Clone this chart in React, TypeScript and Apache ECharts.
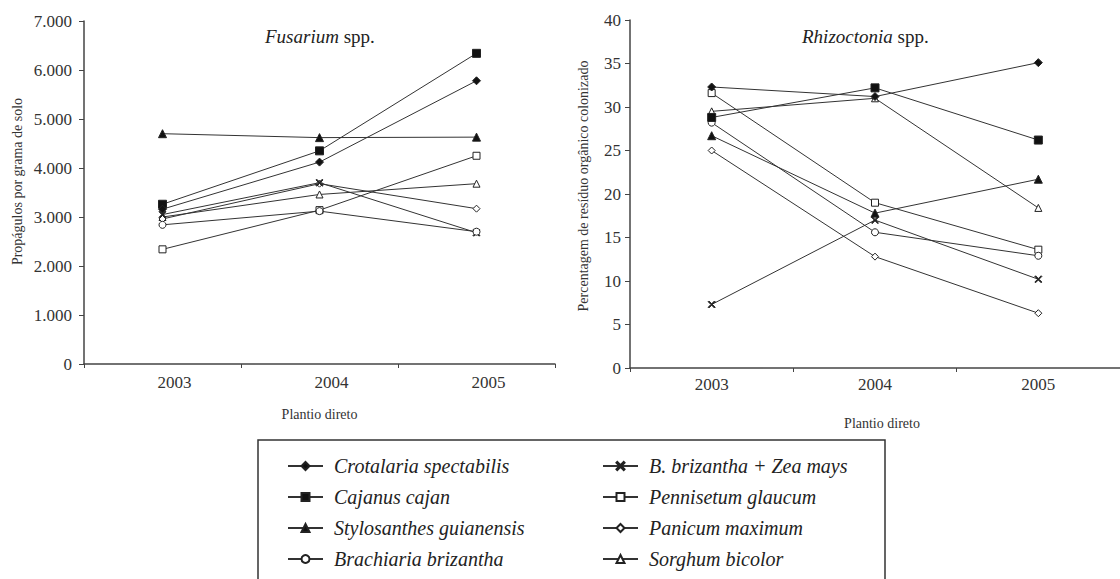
import React, { useEffect, useRef } from "react";
import * as echarts from "echarts";

const years = ["2003", "2004", "2005"];
const seriesNames = [
  "Crotalaria spectabilis",
  "Cajanus cajan",
  "Stylosanthes guianensis",
  "Brachiaria brizantha",
  "B. brizantha + Zea mays",
  "Pennisetum glaucum",
  "Panicum maximum",
  "Sorghum bicolor",
];
const fusariumCrotalaria = [3160, 4120, 5780];
const fusariumCajanus = [3260, 4350, 6340];
const fusariumStylosanthes = [4700, 4620, 4630];
const fusariumBrachiaria = [2840, 3120, 2700];
const fusariumBbZea = [3050, 3700, 2680];
const fusariumPennisetum = [2340, 3140, 4250];
const fusariumPanicum = [2960, 3680, 3170];
const fusariumSorghum = [3000, 3460, 3680];

const rhizoCrotalaria = [32.3, 31.2, 35.1];
const rhizoCajanus = [28.8, 32.2, 26.2];
const rhizoStylosanthes = [26.7, 17.8, 21.7];
const rhizoBrachiaria = [28.2, 15.6, 12.9];
const rhizoBbZea = [7.3, 17.0, 10.2];
const rhizoPennisetum = [31.6, 19.0, 13.6];
const rhizoPanicum = [25.0, 12.8, 6.3];
const rhizoSorghum = [29.5, 31.0, 18.4];

const fusariumData = [
  fusariumCrotalaria, fusariumCajanus, fusariumStylosanthes, fusariumBrachiaria,
  fusariumBbZea, fusariumPennisetum, fusariumPanicum, fusariumSorghum,
];
const rhizoData = [
  rhizoCrotalaria, rhizoCajanus, rhizoStylosanthes, rhizoBrachiaria,
  rhizoBbZea, rhizoPennisetum, rhizoPanicum, rhizoSorghum,
];

const X_PATH = "path://M1,0L5,4L9,0L10,1L6,5L10,9L9,10L5,6L1,10L0,9L4,5L0,1Z";
const markers = [
  { symbol: "diamond", fill: "#111", size: 8 },
  { symbol: "rect", fill: "#111", size: 8 },
  { symbol: "triangle", fill: "#111", size: 8 },
  { symbol: "circle", fill: "#fff", size: 7 },
  { symbol: X_PATH, fill: "#222", size: 7 },
  { symbol: "rect", fill: "#fff", size: 7 },
  { symbol: "diamond", fill: "#fff", size: 7 },
  { symbol: "triangle", fill: "#fff", size: 7 },
];

const FONT = "Liberation Serif";

export default function App() {
  const ref = useRef<HTMLDivElement>(null);
  useEffect(() => {
    if (!ref.current) return;
    const chart = echarts.init(ref.current, undefined, { renderer: "svg" });
    const axisLine = { show: true, lineStyle: { color: "#444", width: 1.5 } };
    const series: any[] = [];
    seriesNames.forEach((name, i) => {
      const m = markers[i];
      const common = {
        type: "line",
        name,
        symbol: m.symbol,
        symbolSize: m.size,
        showSymbol: true,
        lineStyle: { color: "#333", width: 1 },
        itemStyle: { color: m.fill, borderColor: "#222", borderWidth: 1 },
        z: 10 - i,
      };
      series.push({ ...common, xAxisIndex: 0, yAxisIndex: 0, data: fusariumData[i] });
      series.push({ ...common, xAxisIndex: 1, yAxisIndex: 1, data: rhizoData[i] });
    });
    const legendCommon = {
      orient: "vertical",
      top: 451,
      itemWidth: 35,
      itemHeight: 10,
      itemGap: 11,
      textStyle: {
        fontFamily: FONT,
        fontStyle: "italic",
        fontSize: 20,
        color: "#222",
        padding: [0, 0, 0, 6],
      },
      inactiveColor: "#222",
    };
    const tickLabel = { color: "#333", fontSize: 17, fontFamily: FONT, fontStyle: "normal" };
    chart.setOption({
      animation: false,
      textStyle: { fontFamily: FONT },
      title: [
        {
          text: "{i|Fusarium} spp.",
          left: 260,
          top: 22,
          textStyle: {
            fontFamily: FONT,
            fontSize: 19,
            fontWeight: "normal",
            color: "#222",
            rich: { i: { fontFamily: FONT, fontSize: 19, fontStyle: "italic", color: "#222" } },
          },
        },
        {
          text: "{i|Rhizoctonia} spp.",
          left: 797,
          top: 22,
          textStyle: {
            fontFamily: FONT,
            fontSize: 19,
            fontWeight: "normal",
            color: "#222",
            rich: { i: { fontFamily: FONT, fontSize: 19, fontStyle: "italic", color: "#222" } },
          },
        },
      ],
      grid: [
        { left: 84, top: 21, width: 471, height: 343 },
        { left: 630, top: 20, width: 503, height: 348 },
      ],
      xAxis: [
        {
          type: "category",
          gridIndex: 0,
          data: years,
          boundaryGap: true,
          axisLine,
          axisTick: { show: true, length: 4, lineStyle: { color: "#444" } },
          axisLabel: { ...tickLabel, margin: 10, padding: [0, 0, 0, 24] },
          name: "Plantio direto",
          nameLocation: "middle",
          nameGap: 43,
          nameTextStyle: { color: "#333", fontSize: 14, fontFamily: FONT },
        },
        {
          type: "category",
          gridIndex: 1,
          data: years,
          boundaryGap: true,
          axisLine,
          axisTick: { show: true, length: 4, lineStyle: { color: "#444" } },
          axisLabel: { ...tickLabel, margin: 8 },
          name: "Plantio direto",
          nameLocation: "middle",
          nameGap: 48,
          nameTextStyle: { color: "#333", fontSize: 14, fontFamily: FONT, padding: [0, 0, 0, 14] },
        },
      ],
      yAxis: [
        {
          type: "value",
          gridIndex: 0,
          min: 0,
          max: 7000,
          interval: 1000,
          splitLine: { show: false },
          axisLine,
          axisTick: { show: true, length: 5, lineStyle: { color: "#444" } },
          axisLabel: {
            ...tickLabel,
            margin: 12,
            formatter: (v: number) => (v === 0 ? "0" : `${v / 1000}.000`),
          },
          name: "Propágulos por grama de solo",
          nameLocation: "middle",
          nameGap: 60,
          nameTextStyle: { color: "#333", fontSize: 14, fontFamily: FONT, padding: [0, 0, 0, 22] },
        },
        {
          type: "value",
          gridIndex: 1,
          min: 0,
          max: 40,
          interval: 5,
          splitLine: { show: false },
          axisLine,
          axisTick: { show: true, length: 5, lineStyle: { color: "#444" } },
          axisLabel: { ...tickLabel, margin: 9 },
          name: "Percentagem de resíduo orgânico colonizado",
          nameLocation: "middle",
          nameGap: 40,
          nameTextStyle: { color: "#333", fontSize: 14, fontFamily: FONT, padding: [0, 0, 0, 16] },
        },
      ],
      legend: [
        { ...legendCommon, left: 282, data: seriesNames.slice(0, 4) },
        { ...legendCommon, left: 597, data: seriesNames.slice(4) },
      ],
      graphic: [
        {
          type: "rect",
          shape: { x: 258, y: 440, width: 627, height: 160 },
          style: { fill: "none", stroke: "#333", lineWidth: 1.5 },
          silent: true,
        },
      ],
      series,
    });
    return () => chart.dispose();
  }, []);
  return (
    <div
      ref={ref}
      style={{ position: "absolute", left: 0, top: 0, width: 1120, height: 579, background: "#fff" }}
    />
  );
}
